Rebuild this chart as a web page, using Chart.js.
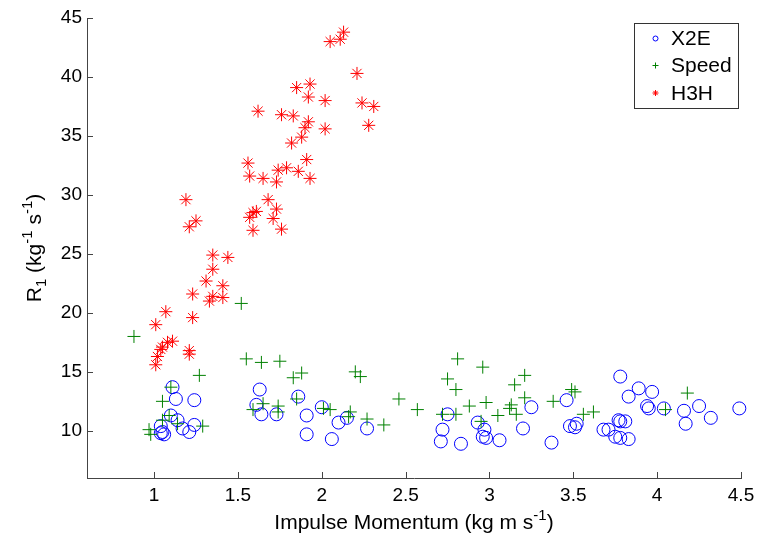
<!DOCTYPE html>
<html>
<head>
<meta charset="utf-8">
<title>R1 vs Impulse Momentum</title>
<script src="https://cdn.jsdelivr.net/npm/chart.js@4.4.1/dist/chart.umd.min.js"></script>
<style>
    html, body { margin: 0; padding: 0; background: #fff; }
    #wrap { width: 761px; height: 540px; }
</style>
</head>
<body>
<div id="wrap"><canvas id="scatterChart" width="761" height="540"></canvas></div>
<script>
// Axis ticks
const xTicks = [1, 1.5, 2, 2.5, 3, 3.5, 4, 4.5];
const yTicks = [10, 15, 20, 25, 30, 35, 40, 45];

// X2E (blue circles)
const x2eX = [1.11, 1.13, 1.24, 1.10, 1.14, 1.04, 1.05, 1.06, 1.04, 1.17, 1.21, 1.24,
    1.63, 1.61, 1.64, 1.73, 1.86, 1.91, 1.91, 2.00, 2.10, 2.15, 2.06, 2.27,
    2.75, 2.72, 2.71, 2.83, 2.93, 2.97, 2.96, 2.98, 3.06, 3.20, 3.25, 3.37,
    3.46, 3.48, 3.51, 3.52, 3.68, 3.71, 3.75, 3.78, 3.83, 3.77, 3.78, 3.81,
    3.78, 3.83, 3.89, 3.97, 3.94, 3.95, 4.04, 4.16, 4.17, 4.25, 4.32, 4.49];
const x2eY = [13.7, 12.7, 12.6, 11.3, 10.9, 10.4, 9.9, 9.7, 9.8, 10.2, 9.9, 10.5,
    13.5, 12.2, 11.4, 11.4, 12.9, 11.3, 9.7, 12.0, 10.7, 11.1, 9.3, 10.2,
    11.4, 10.1, 9.1, 8.9, 10.7, 10.1, 9.5, 9.4, 9.2, 10.2, 12.0, 9.0,
    12.6, 10.4, 10.3, 10.6, 10.1, 10.1, 9.5, 9.4, 9.3, 10.9, 10.8, 10.8,
    14.6, 12.9, 13.6, 13.3, 12.1, 11.9, 11.9, 11.7, 10.6, 12.1, 11.1, 11.9];

// Speed (green crosses)
const speedX = [0.88, 1.52, 1.55, 1.64, 1.75, 1.27, 2.20, 2.23, 1.83, 1.88, 1.10, 1.05,
    1.85, 2.46, 2.57, 1.59, 1.65, 1.74, 1.74, 2.01, 2.05, 2.17, 2.16, 2.27,
    2.37, 1.09, 1.14, 0.97, 0.98, 1.29, 1.05, 2.81, 2.96, 2.75, 2.80, 3.21,
    3.15, 3.21, 3.49, 3.51, 3.38, 2.88, 2.98, 2.72, 2.80, 3.05, 3.12, 3.13,
    3.16, 2.95, 3.56, 3.62, 4.05, 4.18];
const speedY = [18.0, 20.8, 16.1, 15.8, 15.9, 14.7, 15.0, 14.6, 14.5, 14.9, 13.7, 12.5,
    12.7, 12.7, 11.8, 11.8, 12.3, 12.1, 11.6, 11.9, 11.8, 11.6, 11.2, 11.0,
    10.5, 11.3, 10.6, 10.1, 9.7, 10.4, 10.9, 16.1, 15.4, 14.4, 13.5, 14.7,
    13.9, 12.8, 13.5, 13.3, 12.5, 12.1, 12.4, 11.4, 11.4, 11.3, 11.9, 12.2,
    11.4, 10.8, 11.4, 11.6, 11.8, 13.2];

// H3H (red asterisks)
const h3hX = [2.13, 2.11, 2.05, 2.21, 1.85, 1.93, 1.92, 2.02, 2.24, 2.31, 1.62, 1.76,
    1.83, 1.92, 1.90, 2.02, 2.28, 1.88, 1.82, 1.56, 1.91, 1.57, 1.65, 1.73,
    1.74, 1.79, 1.86, 1.93, 1.19, 1.68, 1.25, 1.21, 1.59, 1.61, 1.57, 1.73,
    1.71, 1.59, 1.76, 1.35, 1.44, 1.35, 1.31, 1.41, 1.23, 1.35, 1.33, 1.41,
    1.07, 1.23, 1.01, 1.11, 1.08, 1.05, 1.04, 1.02, 1.21, 1.21, 1.01];
const h3hY = [43.8, 43.2, 43.0, 40.3, 39.1, 39.4, 38.3, 38.0, 37.8, 37.5, 37.1, 36.8,
    36.7, 36.2, 35.7, 35.6, 35.9, 34.9, 34.4, 32.7, 33.0, 31.6, 31.4, 31.1,
    32.1, 32.3, 32.0, 31.4, 29.6, 29.6, 27.8, 27.3, 28.5, 28.6, 28.1, 28.8,
    28.0, 27.0, 27.1, 24.9, 24.7, 23.7, 22.7, 22.3, 21.6, 21.4, 21.0, 21.3,
    20.1, 19.6, 19.0, 17.6, 17.5, 17.1, 16.9, 16.3, 16.8, 16.5, 15.6];

const FONT = '"Liberation Sans", Arial, sans-serif';

// Axis titles with sub/superscripts: [text, shift] (1 = sup, -1 = sub)
const xTitleParts = [['Impulse Momentum (kg m s', 0], ['-1', 1], [')', 0]];
const yTitleParts = [['R', 0], ['1', -1], [' (kg', 0], ['-1', 1], [' s', 0], ['-1', 1], [')', 0]];

function toPoints(xs, ys) {
    return xs.map((x, i) => ({ x: x, y: ys[i] }));
}

function partFont(p, size) {
    return (p[1] ? Math.round(size * 0.7) : size) + 'px ' + FONT;
}

function drawRich(ctx, parts, x, y, size) {
    let w = 0;
    parts.forEach(p => { ctx.font = partFont(p, size); w += ctx.measureText(p[0]).width; });
    let cx = x - w / 2;
    parts.forEach(p => {
        ctx.font = partFont(p, size);
        const dy = p[1] === 1 ? -size * 0.42 : (p[1] === -1 ? size * 0.22 : 0);
        ctx.fillText(p[0], cx, y + dy);
        cx += ctx.measureText(p[0]).width;
    });
}

function drawMarker(ctx, style, x, y, r) {
    ctx.beginPath();
    if (style === 'circle') {
        ctx.arc(x, y, r, 0, Math.PI * 2);
    } else {
        ctx.moveTo(x - r, y); ctx.lineTo(x + r, y);
        ctx.moveTo(x, y - r); ctx.lineTo(x, y + r);
        if (style === 'star') {
            const d = r * 0.707;
            ctx.moveTo(x - d, y - d); ctx.lineTo(x + d, y + d);
            ctx.moveTo(x - d, y + d); ctx.lineTo(x + d, y - d);
        }
    }
    ctx.stroke();
}

// inward ticks, axis titles and the boxed legend
const axisDecor = {
    id: 'axisDecor',
    afterDraw(chart) {
        const { ctx, chartArea, scales } = chart;
        ctx.save();
        ctx.strokeStyle = '#444';
        ctx.lineWidth = 1;
        ctx.beginPath();
        xTicks.forEach(v => {
            const px = Math.round(scales.x.getPixelForValue(v)) + 0.5;
            ctx.moveTo(px, chartArea.bottom);
            ctx.lineTo(px, chartArea.bottom - 6);
        });
        yTicks.forEach(v => {
            const py = Math.round(scales.y.getPixelForValue(v)) + 0.5;
            ctx.moveTo(chartArea.left, py);
            ctx.lineTo(chartArea.left + 6, py);
        });
        ctx.stroke();

        ctx.fillStyle = '#000';
        ctx.textBaseline = 'alphabetic';
        drawRich(ctx, xTitleParts, (chartArea.left + chartArea.right) / 2, 529, 21);
        ctx.save();
        ctx.translate(41, (chartArea.top + chartArea.bottom) / 2);
        ctx.rotate(-Math.PI / 2);
        drawRich(ctx, yTitleParts, 0, 0, 21);
        ctx.restore();

        // legend
        ctx.fillStyle = '#fff';
        ctx.fillRect(634.5, 23.5, 104, 85);
        ctx.strokeStyle = '#333';
        ctx.strokeRect(634.5, 23.5, 104, 85);
        const rows = [38.5, 65.5, 93];
        chart.data.datasets.forEach((ds, i) => {
            ctx.strokeStyle = ds.borderColor;
            ctx.lineWidth = 1;
            drawMarker(ctx, ds.pointStyle, 655.5, rows[i], ds.pointStyle === 'circle' ? 2.5 : 3);
            ctx.fillStyle = '#000';
            ctx.font = '21px ' + FONT;
            ctx.textBaseline = 'middle';
            ctx.fillText(ds.label, 671, rows[i] + 1);
        });
        ctx.restore();
    }
};

const chart = new Chart(document.getElementById('scatterChart').getContext('2d'), {
    type: 'scatter',
    data: {
        datasets: [
            {
                label: 'X2E',
                data: toPoints(x2eX, x2eY),
                pointStyle: 'circle',
                radius: 6.5,
                borderColor: '#0000ff',
                backgroundColor: 'rgba(0,0,0,0)',
                borderWidth: 1,
                clip: false,
                order: 3
            },
            {
                label: 'Speed',
                data: toPoints(speedX, speedY),
                pointStyle: 'cross',
                radius: 6.5,
                borderColor: '#008000',
                backgroundColor: 'rgba(0,0,0,0)',
                borderWidth: 1,
                clip: false,
                order: 2
            },
            {
                label: 'H3H',
                data: toPoints(h3hX, h3hY),
                pointStyle: 'star',
                radius: 6.5,
                borderColor: '#ff0000',
                backgroundColor: 'rgba(0,0,0,0)',
                borderWidth: 1,
                clip: false,
                order: 1
            }
        ]
    },
    options: {
        responsive: false,
        animation: false,
        events: [],
        layout: {
            padding: { left: 0, top: 18, right: 20, bottom: 0 }
        },
        plugins: {
            legend: { display: false },
            tooltip: { enabled: false }
        },
        scales: {
            x: {
                type: 'linear',
                min: 0.6,
                max: 4.5,
                afterFit: function(scale) { scale.height = 62; },
                afterBuildTicks: function(scale) { scale.ticks = xTicks.map(v => ({ value: v })); },
                grid: { display: false, drawTicks: false },
                border: { display: true, color: '#444', width: 1 },
                ticks: {
                    color: '#000',
                    padding: 6,
                    font: { family: FONT, size: 19 },
                    callback: function(value) { return String(value); }
                }
            },
            y: {
                type: 'linear',
                min: 6,
                max: 45,
                afterFit: function(scale) { scale.width = 87; },
                afterBuildTicks: function(scale) { scale.ticks = yTicks.map(v => ({ value: v })); },
                grid: { display: false, drawTicks: false },
                border: { display: true, color: '#444', width: 1 },
                ticks: {
                    color: '#000',
                    padding: 5,
                    font: { family: FONT, size: 19 },
                    callback: function(value) { return String(value); }
                }
            }
        }
    },
    plugins: [axisDecor]
});
</script>
</body>
</html>
